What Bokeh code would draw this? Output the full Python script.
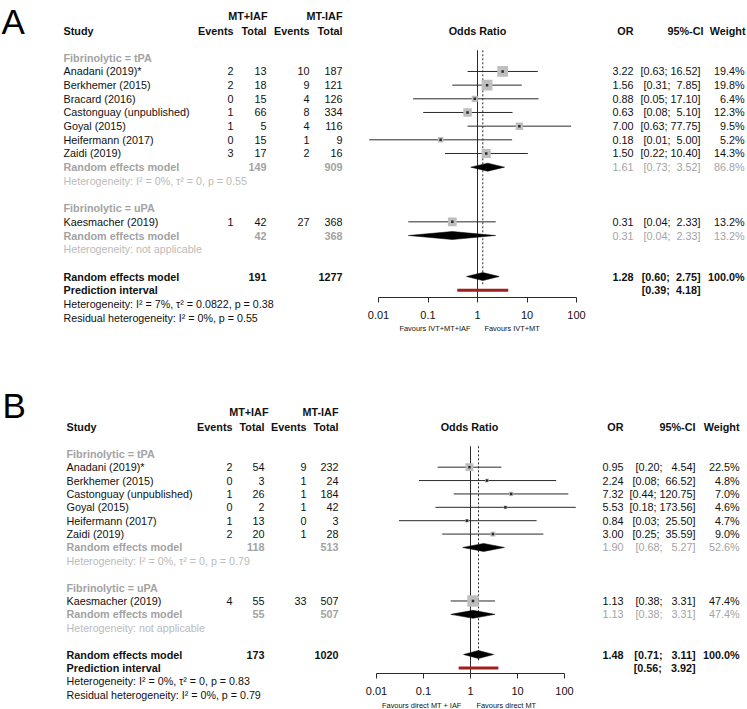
import math
from bokeh.plotting import figure
from bokeh.models import Range1d, LogScale, LogAxis, FixedTicker, CustomJSTickFormatter
from bokeh.core.properties import value
from bokeh.embed import file_html
from bokeh.resources import INLINE

# ---------------- Panel A data ----------------
A_arms = ["MT+IAF", "MT-IAF"]
A_studies = ["Anadani (2019)*", "Berkhemer (2015)", "Bracard (2016)", "Castonguay (unpublished)",
             "Goyal (2015)", "Heifermann (2017)", "Zaidi (2019)", "Kaesmacher (2019)"]
A_group = ["tPA", "tPA", "tPA", "tPA", "tPA", "tPA", "tPA", "uPA"]
A_ev1 = [2, 2, 0, 1, 1, 0, 3, 1]
A_tot1 = [13, 18, 15, 66, 5, 15, 17, 42]
A_ev2 = [10, 9, 4, 8, 4, 1, 2, 27]
A_tot2 = [187, 121, 126, 334, 116, 9, 16, 368]
A_or = [3.22, 1.56, 0.88, 0.63, 7.00, 0.18, 1.50, 0.31]
A_lo = [0.63, 0.31, 0.05, 0.08, 0.63, 0.0065, 0.22, 0.04]
A_hi = [16.52, 7.85, 17.10, 5.10, 77.75, 5.00, 10.40, 2.33]
A_w = [19.4, 19.8, 6.4, 12.3, 9.5, 5.2, 14.3, 13.2]
A_sub_keys = ["tPA", "uPA"]
A_sub_names = ["Fibrinolytic = tPA", "Fibrinolytic = uPA"]
A_sub_tot1 = [149, 42]
A_sub_tot2 = [909, 368]
A_sub_or = [1.61, 0.31]
A_sub_lo = [0.73, 0.04]
A_sub_hi = [3.52, 2.33]
A_sub_w = [86.8, 13.2]
A_sub_het = ["Heterogeneity: I² = 0%, τ² = 0, p = 0.55", "Heterogeneity: not applicable"]
A_all_tot = [191, 1277]
A_all_est = [1.28, 0.60, 2.75]
A_all_w = 100.0
A_pi = [0.39, 4.18]
A_het = ["Heterogeneity: I² = 7%, τ² = 0.0822, p = 0.38", "Residual heterogeneity: I² = 0%, p = 0.55"]
A_favours = ["Favours IVT+MT+IAF", "Favours IVT+MT"]

# ---------------- Panel B data ----------------
B_arms = ["MT+IAF", "MT-IAF"]
B_studies = ["Anadani (2019)*", "Berkhemer (2015)", "Castonguay (unpublished)", "Goyal (2015)",
             "Heifermann (2017)", "Zaidi (2019)", "Kaesmacher (2019)"]
B_group = ["tPA", "tPA", "tPA", "tPA", "tPA", "tPA", "uPA"]
B_ev1 = [2, 0, 1, 0, 1, 2, 4]
B_tot1 = [54, 3, 26, 2, 13, 20, 55]
B_ev2 = [9, 1, 1, 1, 0, 1, 33]
B_tot2 = [232, 24, 184, 42, 3, 28, 507]
B_or = [0.95, 2.24, 7.32, 5.53, 0.84, 3.00, 1.13]
B_lo = [0.20, 0.08, 0.44, 0.18, 0.03, 0.25, 0.38]
B_hi = [4.54, 66.52, 120.75, 173.56, 25.50, 35.59, 3.31]
B_w = [22.5, 4.8, 7.0, 4.6, 4.7, 9.0, 47.4]
B_sub_keys = ["tPA", "uPA"]
B_sub_names = ["Fibrinolytic = tPA", "Fibrinolytic = uPA"]
B_sub_tot1 = [118, 55]
B_sub_tot2 = [513, 507]
B_sub_or = [1.90, 1.13]
B_sub_lo = [0.68, 0.38]
B_sub_hi = [5.27, 3.31]
B_sub_w = [52.6, 47.4]
B_sub_het = ["Heterogeneity: I² = 0%, τ² = 0, p = 0.79", "Heterogeneity: not applicable"]
B_all_tot = [173, 1020]
B_all_est = [1.48, 0.71, 3.11]
B_all_w = 100.0
B_pi = [0.56, 3.92]
B_het = ["Heterogeneity: I² = 0%, τ² = 0, p = 0.83", "Residual heterogeneity: I² = 0%, p = 0.79"]
B_favours = ["Favours direct MT + IAF", "Favours direct MT"]

TICKS = [0.01, 0.1, 1, 10, 100]

# ---------------- layout ----------------
W, H = 747, 709
PW, PH = 747, 709
S = PW / W
FONT = "Liberation Sans"
BLACK = "#111111"
GRAY = "#A3A3A3"
LGRAY = "#BBBBBB"
SQ = "#BEBEBE"
LINE = "#2a2a2a"
PRED = "#A11E1E"
NB = "\u00a0"
FS = 10.8      # main text size
HS = 10.7      # heterogeneity text size

LAY_A = dict(key="A", letter_x=1, letter_y=21, letter_size=35, row0=57.3, dy=13.67,
             study_x=63, ev1_x=233, tot1_x=266, ev2_x=309, tot2_x=342, arm_x=[267, 342],
             or_x=633, ci_x=700, w_x=744, or_hdr_x=477, ci_hdr_x=703, w_hdr_x=745,
             ref_x=378, dec=49.5, axis_y=297, fav_y=328, fav_x=[470, 484], sq_k=2.43, ci_pad=5)
LAY_B = dict(key="B", letter_x=2, letter_y=404.5, letter_size=35, row0=453.3, dy=13.38,
             study_x=66, ev1_x=232, tot1_x=264, ev2_x=306, tot2_x=338, arm_x=[268, 338],
             or_x=623, ci_x=695, w_x=739, or_hdr_x=469, ci_hdr_x=695, w_hdr_x=739,
             ref_x=376, dec=47.0, axis_y=673, fav_y=705, fav_x=[461, 476], sq_k=1.65, ci_pad=6)

DATA_A = dict(arms=A_arms, studies=A_studies, group=A_group, ev1=A_ev1, tot1=A_tot1, ev2=A_ev2,
              tot2=A_tot2, ors=A_or, los=A_lo, his=A_hi, w=A_w, sub_keys=A_sub_keys,
              sub_names=A_sub_names, sub_tot1=A_sub_tot1, sub_tot2=A_sub_tot2, sub_or=A_sub_or,
              sub_lo=A_sub_lo, sub_hi=A_sub_hi, sub_w=A_sub_w, sub_het=A_sub_het,
              all_tot=A_all_tot, all_est=A_all_est, all_w=A_all_w, pi=A_pi, het=A_het,
              favours=A_favours)
DATA_B = dict(arms=B_arms, studies=B_studies, group=B_group, ev1=B_ev1, tot1=B_tot1, ev2=B_ev2,
              tot2=B_tot2, ors=B_or, los=B_lo, his=B_hi, w=B_w, sub_keys=B_sub_keys,
              sub_names=B_sub_names, sub_tot1=B_sub_tot1, sub_tot2=B_sub_tot2, sub_or=B_sub_or,
              sub_lo=B_sub_lo, sub_hi=B_sub_hi, sub_w=B_sub_w, sub_het=B_sub_het,
              all_tot=B_all_tot, all_est=B_all_est, all_w=B_all_w, pi=B_pi, het=B_het,
              favours=B_favours)

p = figure(width=PW, height=PH, x_range=Range1d(0, W), y_range=Range1d(H, 0),
           x_axis_location=None, y_axis_location=None, min_border=0,
           toolbar_location=None, output_backend="svg", outline_line_color=None)
p.grid.grid_line_color = None

ranges, scales = {}, {}
for L in (LAY_A, LAY_B):
    ranges[L["key"]] = Range1d(start=10 ** (-2 - L["ref_x"] / L["dec"]),
                               end=10 ** (-2 + (W - L["ref_x"]) / L["dec"]))
    scales[L["key"]] = LogScale()
p.extra_x_ranges = ranges
p.extra_x_scales = scales


def txt(x, y, t, size=FS, color=BLACK, bold=False, align="left", baseline="middle"):
    if not isinstance(x, list):
        x, y, t = [x], [y], [t]
    p.text(x=x, y=y, text=t, text_font=value(FONT), text_font_size=f"{size * S:.2f}px",
           text_color=color, text_font_style="bold" if bold else "normal",
           text_align=align, text_baseline=baseline)


def ci_str(lo, hi, pad):
    h = f"{hi:.2f}"
    return "[" + f"{lo:.2f}" + ";" + NB * (1 + pad - len(h)) + h + "]"


def draw_panel(L, D):
    key = L["key"]
    yy = lambda k: L["row0"] + L["dy"] * k
    sx = L["study_x"]
    # panel letter and headers
    txt(L["letter_x"], L["letter_y"], key, size=L["letter_size"], color="black")
    h2 = yy(0) - 26.4
    h1 = h2 - 15
    txt(L["arm_x"], [h1, h1], D["arms"], bold=True, align="right")
    txt(sx, h2, "Study", bold=True)
    txt([L["ev1_x"], L["tot1_x"], L["ev2_x"], L["tot2_x"]], [h2] * 4,
        ["Events", "Total", "Events", "Total"], bold=True, align="right")
    txt(L["or_hdr_x"], h2, "Odds Ratio", bold=True, align="center")
    txt([L["or_x"], L["ci_hdr_x"], L["w_hdr_x"]], [h2] * 3, ["OR", "95%-CI", "Weight"],
        bold=True, align="right")

    # rows
    r = 0
    st_y = [0.0] * len(D["studies"])
    sub_y = []
    for gi, g in enumerate(D["sub_keys"]):
        txt(sx, yy(r), D["sub_names"][gi], color=GRAY, bold=True)
        r += 1
        for i, gg in enumerate(D["group"]):
            if gg == g:
                st_y[i] = yy(r)
                r += 1
        sub_y.append(yy(r))
        r += 1
        txt(sx, yy(r), D["sub_het"][gi], size=HS, color=LGRAY)
        r += 2
    all_y = yy(r)
    pi_y = yy(r + 1)

    top = yy(0) - 7.5
    # reference lines
    p.segment(x0=[1], y0=[top], x1=[1], y1=[L["axis_y"]], x_range_name=key,
              line_color=LINE, line_width=1)
    p.segment(x0=[D["all_est"][0]], y0=[top], x1=[D["all_est"][0]], y1=[all_y + 8],
              x_range_name=key, line_color=LINE, line_width=1, line_dash="2 2")

    # study rows text
    n = len(D["studies"])
    txt([sx] * n, st_y, D["studies"])
    txt([L["ev1_x"]] * n, st_y, [str(v) for v in D["ev1"]], align="right")
    txt([L["tot1_x"]] * n, st_y, [str(v) for v in D["tot1"]], align="right")
    txt([L["ev2_x"]] * n, st_y, [str(v) for v in D["ev2"]], align="right")
    txt([L["tot2_x"]] * n, st_y, [str(v) for v in D["tot2"]], align="right")
    txt([L["or_x"]] * n, st_y, [f"{v:.2f}" for v in D["ors"]], align="right")
    txt([L["ci_x"]] * n, st_y, [ci_str(a, b, L["ci_pad"]) for a, b in zip(D["los"], D["his"])],
        align="right")
    txt([L["w_x"]] * n, st_y, [f"{v:.1f}%" for v in D["w"]], align="right")

    # study CIs and squares
    p.segment(x0=D["los"], y0=st_y, x1=D["his"], y1=st_y, x_range_name=key,
              line_color=LINE, line_width=1)
    p.scatter(x=D["ors"], y=st_y, size=[L["sq_k"] * math.sqrt(v) * S for v in D["w"]],
              marker="square", fill_color=SQ, line_color=None, x_range_name=key)
    p.scatter(x=D["ors"], y=st_y, size=2.5, marker="square", fill_color=LINE,
              line_color=None, x_range_name=key)

    # subgroup summaries
    m = len(D["sub_keys"])
    txt([sx] * m, sub_y, ["Random effects model"] * m, color=GRAY, bold=True)
    txt([L["tot1_x"]] * m, sub_y, [str(v) for v in D["sub_tot1"]], color=GRAY, bold=True, align="right")
    txt([L["tot2_x"]] * m, sub_y, [str(v) for v in D["sub_tot2"]], color=GRAY, bold=True, align="right")
    txt([L["or_x"]] * m, sub_y, [f"{v:.2f}" for v in D["sub_or"]], color=GRAY, align="right")
    txt([L["ci_x"]] * m, sub_y, [ci_str(a, b, L["ci_pad"]) for a, b in zip(D["sub_lo"], D["sub_hi"])],
        color=GRAY, align="right")
    txt([L["w_x"]] * m, sub_y, [f"{v:.1f}%" for v in D["sub_w"]], color=GRAY, align="right")
    hh = 4.0
    p.patches(xs=[[a, e, b, e] for e, a, b in zip(D["sub_or"], D["sub_lo"], D["sub_hi"])],
              ys=[[y, y - hh, y, y + hh] for y in sub_y], x_range_name=key,
              fill_color="black", line_color="black", line_width=0.5)

    # overall
    e, a, b = D["all_est"]
    txt(sx, all_y, "Random effects model", bold=True)
    txt([L["tot1_x"], L["tot2_x"]], [all_y, all_y], [str(v) for v in D["all_tot"]], bold=True, align="right")
    txt(L["or_x"], all_y, f"{e:.2f}", bold=True, align="right")
    txt(L["ci_x"], all_y, ci_str(a, b, L["ci_pad"]), bold=True, align="right")
    txt(L["w_x"], all_y, f"{D['all_w']:.1f}%", bold=True, align="right")
    p.patches(xs=[[a, e, b, e]], ys=[[all_y, all_y - hh, all_y, all_y + hh]], x_range_name=key,
              fill_color="black", line_color="black", line_width=0.5)
    txt(sx, pi_y, "Prediction interval", bold=True)
    txt(L["ci_x"], pi_y, ci_str(D["pi"][0], D["pi"][1], L["ci_pad"]), bold=True, align="right")
    p.segment(x0=[D["pi"][0]], y0=[pi_y], x1=[D["pi"][1]], y1=[pi_y], x_range_name=key,
              line_color=PRED, line_width=3)
    txt([sx, sx], [yy(r + 2), yy(r + 3)], D["het"], size=HS)

    # axis
    ax = LogAxis(x_range_name=key, fixed_location=L["axis_y"], bounds=(TICKS[0], TICKS[-1]),
                 ticker=FixedTicker(ticks=TICKS, minor_ticks=[]),
                 formatter=CustomJSTickFormatter(code="return tick.toString()"))
    ax.axis_line_color = LINE
    ax.major_tick_line_color = LINE
    ax.major_tick_in = 0
    ax.major_tick_out = 5
    ax.minor_tick_line_color = None
    ax.major_label_text_font = FONT
    ax.major_label_text_font_size = f"{11 * S:.2f}px"
    ax.major_label_text_color = BLACK
    ax.major_label_standoff = 8
    p.add_layout(ax, "below")

    # favours labels
    txt([L["fav_x"][0]], [L["fav_y"]], [D["favours"][0]], size=7.4, align="right")
    txt([L["fav_x"][1]], [L["fav_y"]], [D["favours"][1]], size=7.4, align="left")


draw_panel(LAY_A, DATA_A)
draw_panel(LAY_B, DATA_B)

open("out.html", "w").write(file_html(p, INLINE))
